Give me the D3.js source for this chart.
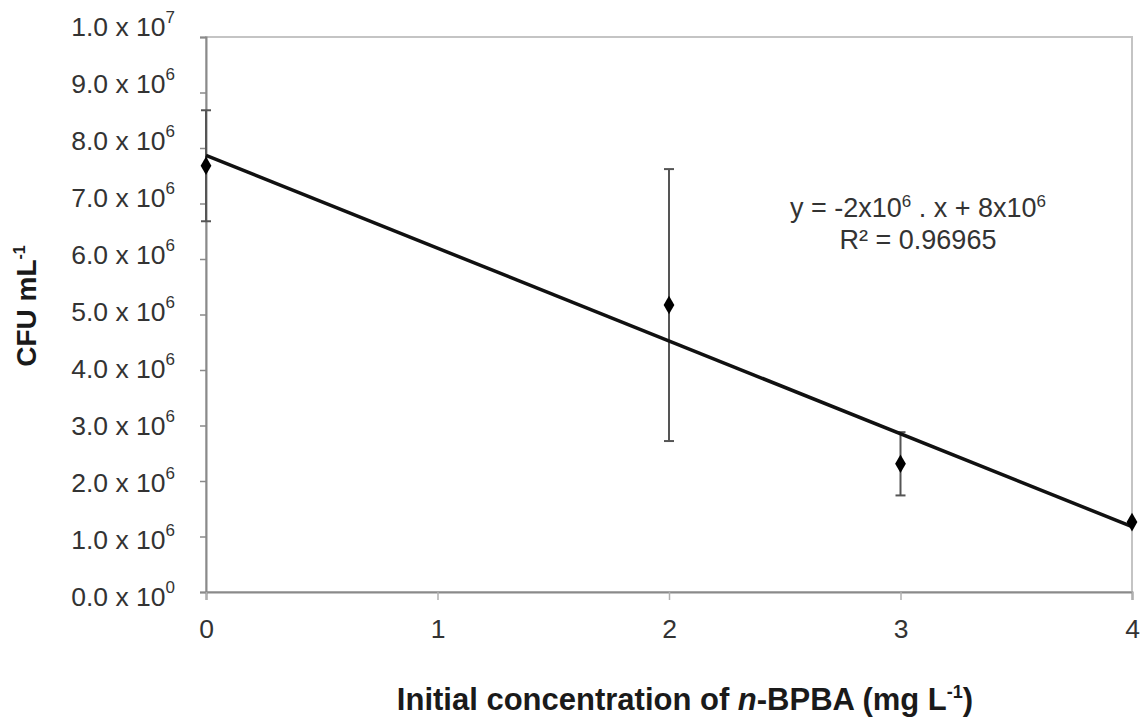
<!DOCTYPE html>
<html>
<head>
<meta charset="utf-8">
<script src="https://cdn.jsdelivr.net/npm/d3@7"></script>
<style>
  html, body { margin: 0; padding: 0; background: #fff; }
  svg { display: block; font-family: "Liberation Sans", Arial, sans-serif; }
</style>
</head>
<body>
<div id="chart"></div>
<script>
// values
const concentrations = [0, 2, 3, 4];
const cfuMeans = [7.68e6, 5.17e6, 2.31e6, 1.26e6];
const cfuErrors = [1.0e6, 2.45e6, 0.57e6, 0];
const yTickValues = [0, 1e6, 2e6, 3e6, 4e6, 5e6, 6e6, 7e6, 8e6, 9e6, 1e7];
const yTickMantissa = ['0.0', '1.0', '2.0', '3.0', '4.0', '5.0', '6.0', '7.0', '8.0', '9.0', '1.0'];
const yTickExponent = ['0', '6', '6', '6', '6', '6', '6', '6', '6', '6', '7'];
const xTickValues = [0, 1, 2, 3, 4];

const W = 1144, H = 725;
const margin = { top: 37, right: 12, bottom: 133, left: 206 };

const svg = d3.select('#chart').append('svg')
  .attr('width', W).attr('height', H);

const x = d3.scaleLinear().domain([0, 4]).range([margin.left, W - margin.right]);
const y = d3.scaleLinear().domain([0, 1e7]).range([H - margin.bottom, margin.top]);
// the tick labels sit on a slightly wider spacing than the ticks themselves
const yLabel = d3.scaleLinear().domain([0, 1e7]).range([597, 27]);

// plot frame
svg.append('rect')
  .attr('x', x(0)).attr('y', y(1e7))
  .attr('width', x(4) - x(0)).attr('height', y(0) - y(1e7))
  .attr('fill', 'none').attr('stroke', '#c4c4c4').attr('stroke-width', 2);

// y axis
const yAxis = svg.append('g')
  .attr('transform', `translate(${x(0)},0)`)
  .call(d3.axisLeft(y).tickValues(yTickValues).tickSize(6).tickFormat(''));
yAxis.select('.domain').attr('stroke', '#8a8a8a').attr('stroke-width', 2);
yAxis.selectAll('.tick line').attr('stroke', '#8a8a8a').attr('stroke-width', 1.5);

const yLabels = svg.append('g');
yTickValues.forEach((v, i) => {
  const t = yLabels.append('text')
    .attr('x', 175).attr('y', yLabel(v))
    .attr('text-anchor', 'end')
    .attr('font-size', 26.5).attr('fill', '#333')
    .attr('dominant-baseline', 'central');
  t.append('tspan').text(`${yTickMantissa[i]} x 10`);
  t.append('tspan').attr('dy', -10).attr('font-size', 17).text(yTickExponent[i]);
});

// x axis
const xAxis = svg.append('g')
  .attr('transform', `translate(0,${y(0)})`)
  .call(d3.axisBottom(x).tickValues(xTickValues).tickSize(8).tickFormat(d3.format('d')));
xAxis.select('.domain').attr('stroke', '#8a8a8a').attr('stroke-width', 2);
xAxis.selectAll('.tick line').attr('stroke', '#b0b0b0').attr('stroke-width', 1.5);
xAxis.selectAll('.tick text')
  .attr('y', 27).attr('font-size', 26.5).attr('fill', '#333')
  .attr('font-family', '"Liberation Sans", Arial, sans-serif');

// axis titles
const xt = svg.append('text')
  .attr('x', 685).attr('y', 710)
  .attr('text-anchor', 'middle')
  .attr('font-size', 31).attr('font-weight', 'bold').attr('fill', '#1a1a1a');
xt.append('tspan').text('Initial concentration of ');
xt.append('tspan').attr('font-style', 'italic').text('n');
xt.append('tspan').text('-BPBA (mg L');
xt.append('tspan').attr('dy', -12).attr('font-size', 18).text('-1');
xt.append('tspan').attr('dy', 12).text(')');

const yt = svg.append('text')
  .attr('transform', 'translate(36,306) rotate(-90)')
  .attr('text-anchor', 'middle')
  .attr('font-size', 28).attr('font-weight', 'bold').attr('fill', '#1a1a1a');
yt.append('tspan').text('CFU mL');
yt.append('tspan').attr('dy', -11).attr('font-size', 16).text('-1');

// linear trendline from the data
const mx = d3.mean(concentrations), my = d3.mean(cfuMeans);
const sxy = d3.sum(concentrations, (c, i) => (c - mx) * (cfuMeans[i] - my));
const sxx = d3.sum(concentrations, c => (c - mx) * (c - mx));
const slope = sxy / sxx;
const intercept = my - slope * mx;

const pts = concentrations.map((c, i) => ({ c, m: cfuMeans[i], e: cfuErrors[i] }));

// error bars
const eb = svg.append('g').attr('stroke', '#555').attr('stroke-width', 2);
pts.filter(d => d.e > 0).forEach(d => {
  eb.append('line')
    .attr('x1', x(d.c)).attr('x2', x(d.c))
    .attr('y1', y(d.m + d.e)).attr('y2', y(d.m - d.e));
  [d.m + d.e, d.m - d.e].forEach(v => {
    eb.append('line')
      .attr('x1', x(d.c) - 5).attr('x2', x(d.c) + 5)
      .attr('y1', y(v)).attr('y2', y(v));
  });
});

svg.append('line')
  .attr('x1', x(0)).attr('y1', y(intercept))
  .attr('x2', x(4)).attr('y2', y(intercept + slope * 4))
  .attr('stroke', '#111').attr('stroke-width', 3.5);

// markers
svg.append('g').selectAll('path')
  .data(pts)
  .join('path')
  .attr('d', d3.symbol(d3.symbolDiamond, 100))
  .attr('transform', d => `translate(${x(d.c)},${y(d.m)})`)
  .attr('fill', '#000');

// equation
const eq = svg.append('g').attr('font-size', 27).attr('fill', '#333').attr('text-anchor', 'middle');
const l1 = eq.append('text').attr('x', 918).attr('y', 217);
l1.append('tspan').text('y = -2x10');
l1.append('tspan').attr('dy', -10).attr('font-size', 17).text('6');
l1.append('tspan').attr('dy', 10).text(' . x + 8x10');
l1.append('tspan').attr('dy', -10).attr('font-size', 17).text('6');
eq.append('text').attr('x', 918).attr('y', 249).text('R² = 0.96965');
</script>
</body>
</html>
